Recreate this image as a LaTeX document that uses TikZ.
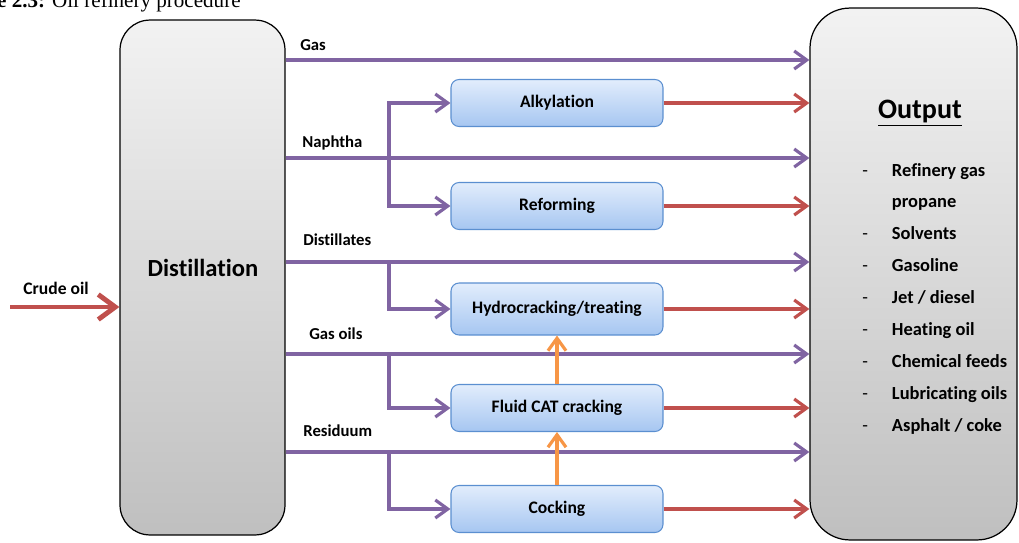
\documentclass[tikz,border=0pt]{standalone}
\usepackage{fontspec}
\setmainfont{Carlito}[Ligatures={NoCommon,NoRequired}]
\newfontfamily\capfont{Liberation Serif}
\usetikzlibrary{arrows.meta,positioning}
\definecolor{flowpurple}{HTML}{8064A2}
\definecolor{flowred}{HTML}{C0504D}
\definecolor{floworange}{HTML}{F79646}
\definecolor{procedge}{HTML}{5B8FD0}
\definecolor{proctop}{HTML}{E2EDFC}
\definecolor{procbot}{HTML}{A6C6F1}

\begin{document}
\begin{tikzpicture}[
    x=0.02cm, y=-0.02cm,
    tower/.style={draw, line width=0.7pt, top color=gray!10, bottom color=gray!50},
    procbox/.style={draw=procedge, line width=0.6pt, rounded corners=0.16cm,
                    top color=proctop, bottom color=procbot,
                    minimum width=4.24cm, minimum height=0.94cm,
                    font=\bfseries\fontsize{10}{12}\selectfont},
    stream/.style={anchor=base west, inner sep=0pt,
                   font=\bfseries\fontsize{9.5}{11}\selectfont},
    feed/.style={draw=flowpurple, line width=1.8pt,
                 -{Straight Barb[length=2.5mm,width=3.6mm]}},
    yield/.style={feed, draw=flowred},
    boost/.style={feed, draw=floworange, line width=1.8pt},
]
  \useasboundingbox (0,0) rectangle (1019,542);

  % caption (cut at the top)
  \node[anchor=base east, inner sep=0pt, font=\capfont\fontsize{12}{14}\selectfont]
    (cap) at (241,7) {\textbf{Figure 2.3:} Oil refinery procedure};

  % columns
  \node[tower, rounded corners=0.6cm, minimum width=3.3cm, minimum height=10.3cm]
    (dist) at (202.5,277.5) {};
  \node[font=\bfseries\fontsize{14}{17}\selectfont] (distlbl) at (203,268) {Distillation};
  \node[tower, rounded corners=0.8cm, minimum width=4.14cm, minimum height=10.64cm]
    (out) at (913.5,274) {};

  % process units
  \node[procbox] (alky) at (557,103) {Alkylation};
  \node[procbox] (reform) at (557,206) {Reforming};
  \node[procbox, minimum height=1.04cm] (hydro) at (557,309) {Hydrocracking/treating};
  \node[procbox] (fcc) at (557,408) {Fluid CAT cracking};
  \node[procbox] (coke) at (557,509) {Cocking};

  % crude feed
  \coordinate (crude) at (10,307);
  \draw[yield, line width=2.8pt, -{Straight Barb[length=3.4mm,width=5mm]}]
    (crude) -- (dist.west |- crude);
  \node[anchor=base west, inner sep=0pt, font=\bfseries\fontsize{10}{12}\selectfont]
    (crudelbl) at (23,294) {Crude oil};

  % fractions
  \coordinate (gas) at (dist.east |- 0,60);
  \coordinate (naph) at (dist.east |- 0,158);
  \coordinate (dstl) at (dist.east |- 0,262);
  \coordinate (goil) at (dist.east |- 0,354);
  \coordinate (resid) at (dist.east |- 0,452);
  \node[stream] (gaslbl) at (300,50) {Gas};
  \node[stream] (naphlbl) at (302,147) {Naphtha};
  \node[stream] (dstllbl) at (303,245) {Distillates};
  \node[stream] (goillbl) at (309,339) {Gas oils};
  \node[stream] (residlbl) at (303,436) {Residuum};

  \draw[feed] (gas) -- (out.west |- gas);
  \draw[feed] (naph) -- (out.west |- naph);
  \draw[feed] (dstl) -- (out.west |- dstl);
  \draw[feed] (goil) -- (out.west |- goil);
  \draw[feed] (resid) -- (out.west |- resid);

  % branches
  \coordinate (naphsplit) at (389,158);
  \coordinate (dstlsplit) at (389,262);
  \coordinate (goilsplit) at (389,354);
  \coordinate (residsplit) at (389,452);
  \draw[feed] (naphsplit) |- (alky.west);
  \draw[feed] (naphsplit) |- (reform.west);
  \draw[feed] (dstlsplit) |- (hydro.west);
  \draw[feed] (goilsplit) |- (fcc.west);
  \draw[feed] (residsplit) |- (coke.west);

  % products
  \draw[yield] (alky.east) -- (out.west |- alky.east);
  \draw[yield] (reform.east) -- (out.west |- reform.east);
  \draw[yield] (hydro.east) -- (out.west |- hydro.east);
  \draw[yield] (fcc.east) -- (out.west |- fcc.east);
  \draw[yield] (coke.east) -- (out.west |- coke.east);

  \draw[boost] (coke) -- (fcc);
  \draw[boost] (fcc) -- (hydro);

  % output list
  \node[font=\bfseries\fontsize{16}{19}\selectfont] (outtitle) at (920,113) {\underline{Output}};
  \node[anchor=base west, inner sep=0pt, font=\bfseries\fontsize{10.5}{18.15}\selectfont]
    (outlist) at (862,176) {%
    \begin{tabular}[t]{@{}l@{\hspace{0.48cm}}l@{}}
      {\mdseries -} & Refinery gas\\
                    & propane\\
      {\mdseries -} & Solvents\\
      {\mdseries -} & Gasoline\\
      {\mdseries -} & Jet / diesel\\
      {\mdseries -} & Heating oil\\
      {\mdseries -} & Chemical feeds\\
      {\mdseries -} & Lubricating oils\\
      {\mdseries -} & Asphalt / coke
    \end{tabular}};
\end{tikzpicture}
\end{document}
